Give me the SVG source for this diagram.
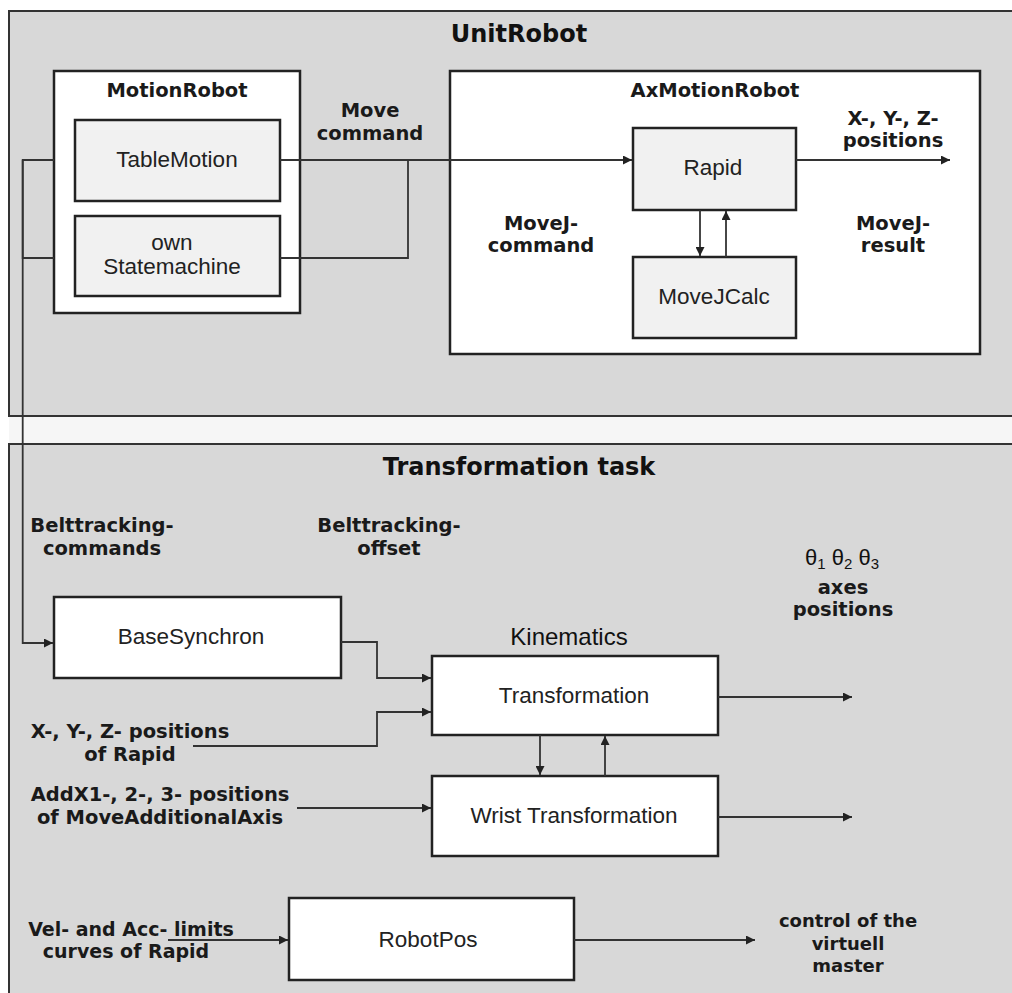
<svg xmlns="http://www.w3.org/2000/svg" width="1012" height="993" viewBox="0 0 1012 993">
<defs>
<marker id="ah" viewBox="0 0 10 10" refX="10" refY="5" markerWidth="10" markerHeight="9" markerUnits="userSpaceOnUse" orient="auto">
<path d="M0,0 L10,5 L0,10 z" fill="#222"/>
</marker>
<style>
.panel{fill:#d8d8d8;stroke:#333;stroke-width:2}
.box{fill:#ffffff;stroke:#222;stroke-width:2.5}
.sub{fill:#f1f1f1;stroke:#222;stroke-width:2.5}
.con{fill:none;stroke:#333;stroke-width:1.8}
.arr{fill:none;stroke:#333;stroke-width:1.8;marker-end:url(#ah)}
.lbl{font-family:"DejaVu Sans",sans-serif;font-weight:bold;font-size:19.5px;fill:#1a1a1a;text-anchor:middle}
.ttl{font-family:"DejaVu Sans",sans-serif;font-weight:bold;font-size:24px;fill:#111;text-anchor:middle}
.nt{font-family:"Liberation Sans",Arial,sans-serif;font-size:22.5px;fill:#222;text-anchor:middle}
</style>
</defs>
<rect x="0" y="0" width="1012" height="993" fill="#ffffff"/>
<rect x="9" y="417" width="1010" height="27" fill="#f6f6f6"/>
<g id="unitrobot">
<rect class="panel" x="9" y="11" width="1010" height="405"/>
<text class="ttl" x="519" y="42">UnitRobot</text>
</g>
<g id="transformation-task">
<rect class="panel" x="9" y="444" width="1010" height="560"/>
<text class="ttl" x="519" y="475">Transformation task</text>
</g>
<g id="motionrobot">
<rect class="box" x="54" y="71" width="246" height="242"/>
<text class="lbl" x="177" y="97">MotionRobot</text>
</g>
<g id="tablemotion">
<rect class="sub" x="75" y="120" width="205" height="81"/>
<text class="nt" x="177" y="167">TableMotion</text>
</g>
<g id="statemachine">
<rect class="sub" x="75" y="216" width="205" height="80"/>
<text class="nt" x="172" y="250">own</text>
<text class="nt" x="172" y="274">Statemachine</text>
</g>
<g id="axmotionrobot">
<rect class="box" x="450" y="71" width="530" height="283"/>
<text class="lbl" x="715" y="97">AxMotionRobot</text>
</g>
<g id="rapid">
<rect class="sub" x="633" y="128" width="163" height="82"/>
<text class="nt" x="713" y="175">Rapid</text>
</g>
<g id="movejcalc">
<rect class="sub" x="633" y="257" width="163" height="81"/>
<text class="nt" x="714" y="304">MoveJCalc</text>
</g>
<g id="basesynchron">
<rect class="box" x="54" y="597" width="287" height="81"/>
<text class="nt" x="191" y="644">BaseSynchron</text>
</g>
<g id="transformation">
<rect class="box" x="432" y="656" width="286" height="79"/>
<text class="nt" x="574" y="703">Transformation</text>
</g>
<g id="wrist-transformation">
<rect class="box" x="432" y="776" width="286" height="80"/>
<text class="nt" x="574" y="823">Wrist Transformation</text>
</g>
<g id="robotpos">
<rect class="box" x="289" y="898" width="285" height="82"/>
<text class="nt" x="428" y="947">RobotPos</text>
</g>
<g id="connectors">
<path class="con" d="M54,160 H22.7 V258 H54"/>
<path class="arr" d="M22.7,160 V643 H53"/>
<path class="arr" d="M280,160 H632"/>
<path class="con" d="M280,258 H408 V160"/>
<path class="arr" d="M796,160 H950"/>
<path class="arr" d="M700,210 V256"/>
<path class="arr" d="M726,257 V211"/>
<path class="arr" d="M341,642 H377 V678 H431"/>
<path class="arr" d="M193,746 H377 V712 H431"/>
<path class="arr" d="M718,697 H852"/>
<path class="arr" d="M540,735 V775"/>
<path class="arr" d="M605,776 V736"/>
<path class="arr" d="M297,808 H431"/>
<path class="arr" d="M718,817 H852"/>
<path class="arr" d="M168,940 H288"/>
<path class="arr" d="M574,940 H755"/>
</g>
<g id="labels">
<text class="lbl" x="370" y="117">Move</text>
<text class="lbl" x="370" y="140">command</text>
<text class="lbl" x="893" y="125">X-, Y-, Z-</text>
<text class="lbl" x="893" y="147">positions</text>
<text class="lbl" x="541" y="230">MoveJ-</text>
<text class="lbl" x="541" y="252">command</text>
<text class="lbl" x="893" y="230">MoveJ-</text>
<text class="lbl" x="893" y="252">result</text>
<text class="lbl" x="102" y="532">Belttracking-</text>
<text class="lbl" x="102" y="555">commands</text>
<text class="lbl" x="389" y="532">Belttracking-</text>
<text class="lbl" x="389" y="555">offset</text>
<text x="842" y="565" style="font-family:'Liberation Sans',Arial,sans-serif;font-size:22px;fill:#111;text-anchor:middle">θ<tspan font-size="15" dy="4">1</tspan><tspan dy="-4"> θ</tspan><tspan font-size="15" dy="4">2</tspan><tspan dy="-4"> θ</tspan><tspan font-size="15" dy="4">3</tspan></text>
<text class="lbl" x="843" y="594">axes</text>
<text class="lbl" x="843" y="616">positions</text>
<text x="569" y="645" style="font-family:'Liberation Sans',Arial,sans-serif;font-size:24px;fill:#111;text-anchor:middle">Kinematics</text>
<text class="lbl" x="130" y="738">X-, Y-, Z- positions</text>
<text class="lbl" x="130" y="761">of Rapid</text>
<text class="lbl" x="160" y="801">AddX1-, 2-, 3- positions</text>
<text class="lbl" x="160" y="824">of MoveAdditionalAxis</text>
<text class="lbl" x="131" y="936" style="font-size:19px">Vel- and Acc- limits</text>
<text class="lbl" x="126" y="958" style="font-size:19px">curves of Rapid</text>
<text class="lbl" x="848" y="927" style="font-size:18px">control of the</text>
<text class="lbl" x="848" y="950" style="font-size:18px">virtuell</text>
<text class="lbl" x="848" y="972" style="font-size:18px">master</text>
</g>
</svg>
